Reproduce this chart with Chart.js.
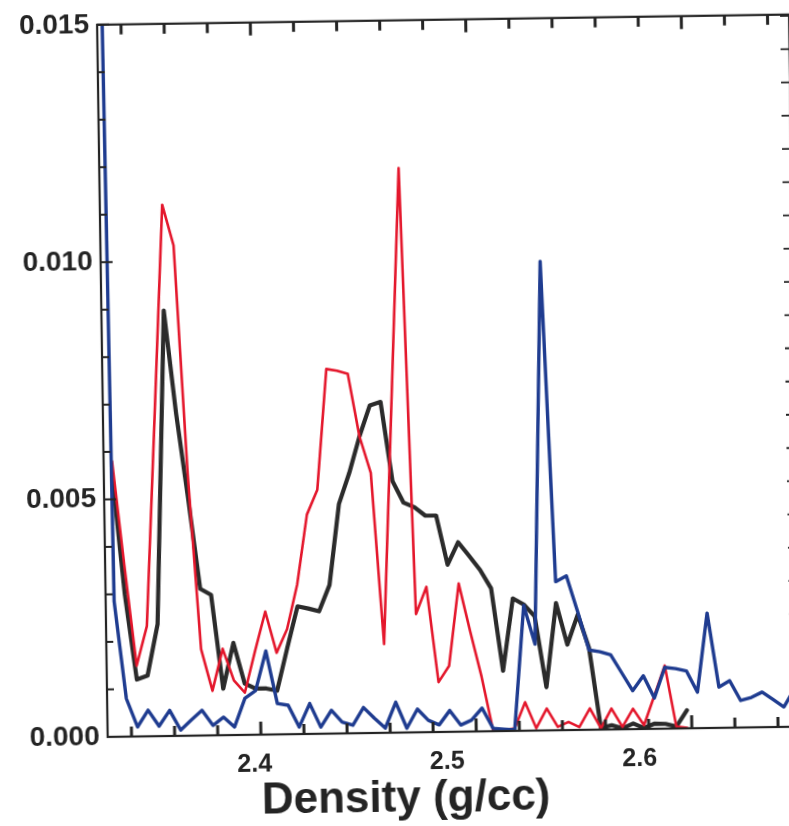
<!DOCTYPE html>
<html>
<head>
<meta charset="utf-8">
<script src="https://cdn.jsdelivr.net/npm/chart.js@4.4.1/dist/chart.umd.min.js"></script>
<style>
  html, body { margin: 0; padding: 0; background: #ffffff; overflow: hidden; }
  #wrap { position: relative; width: 789px; height: 826px; overflow: hidden; }
  /* the plotted sheet sits slightly tilted on the page */
  #c { display: block; transform: rotate(-0.85deg); transform-origin: 97px 17px; }
</style>
</head>
<body>
<div id="wrap"><canvas id="c" width="789" height="826"></canvas></div>
<script>
// Bin centres (g/cc)
const density = [
  2.3226, 2.3282, 2.3338, 2.3394, 2.3450, 2.3506, 2.3562, 2.3618, 2.3674, 2.3730,
  2.3786, 2.3842, 2.3898, 2.3954, 2.4010,
  2.4066, 2.4122, 2.4178, 2.4234, 2.4290, 2.4346, 2.4402, 2.4457, 2.4513, 2.4569,
  2.4625, 2.4681, 2.4737, 2.4793, 2.4849, 2.4905, 2.4961, 2.5017, 2.5073, 2.5129,
  2.5185, 2.5241, 2.5297, 2.5353, 2.5409, 2.5465, 2.5521, 2.5577, 2.5633, 2.5689,
  2.5745, 2.5801, 2.5857, 2.5913, 2.5969, 2.6025, 2.6081, 2.6137, 2.6193, 2.6249,
  2.6305, 2.6361, 2.6417, 2.6473, 2.6529, 2.6585, 2.6641, 2.6697, 2.6753, 2.6809
];

// Frequency per bin, one array per sample
const redSeries = [
  null, 0.0058, 0.0036, 0.00149, 0.00232, 0.0067, 0.01119, 0.01033, 0.0055, 0.00182,
  0.00094, 0.00182, 0.00115, 0.00089, 0.00176,
  0.00259, 0.00172, 0.00221, 0.00315, 0.00462, 0.00514, 0.00768, 0.00764, 0.00757, 0.00625,
  0.00548, 0.00187, 0.00688, 0.01189, 0.00249, 0.00306, 0.00105, 0.00139, 0.00312, 0.00211,
  0.00115, 0.00001, 0.00002, 0.00005, 0.0006, 0.00005, 0.00046, 0.00007, 0.00017, 0.00006,
  0.00045, 0.00003, 0.00044, 0.00005, 0.00043, 0.00008, 0.0007, 0.00133, 0.00004, 0.00001,
  null, null, null, null, null, null, null, null, null, null
];

const blackSeries = [
  null, 0.0055, 0.0030, 0.0012, 0.00128, 0.00236, 0.00896, 0.0068, 0.0050, 0.00309,
  0.00296, 0.00098, 0.00194, 0.00108, 0.00097,
  0.00097, 0.00092, 0.00182, 0.00269, 0.00264, 0.00258, 0.00313, 0.00483, 0.00548, 0.00625,
  0.0069, 0.00697, 0.0053, 0.00484, 0.00474, 0.00456, 0.00456, 0.00352, 0.00399, 0.0037,
  0.0034, 0.00301, 0.00127, 0.00279, 0.00266, 0.00241, 0.00091, 0.00268, 0.0018, 0.00243,
  0.00173, 0.00003, 0.00009, 0.00002, 0.00012, 0.00002, 0.00011, 0.0001, 0.00004, 0.00038,
  null, null, null, null, null, null, null, null, null, null
];

const blueSeries = [
  0.0414, 0.00285, 0.0008, 0.0002, 0.00055, 0.00021, 0.00054, 0.00012, 0.00033, 0.00053,
  0.00021, 0.00038, 0.00017, 0.00077, 0.00093,
  0.00176, 0.00065, 0.00061, 0.00015, 0.00064, 0.00014, 0.00049, 0.00024, 0.00017, 0.00054,
  0.00031, 0.0001, 0.00064, 0.00009, 0.00049, 0.00025, 0.00015, 0.00045, 0.00014, 0.00024,
  0.00049, 0.00006, 0.00004, 0.00002, 0.00264, 0.00182, 0.00988, 0.00313, 0.00325, 0.00249,
  0.00168, 0.00164, 0.00157, 0.00119, 0.00081, 0.00112, 0.00065, 0.00129, 0.00126, 0.00121,
  0.00076, 0.00242, 0.00086, 0.00099, 0.00057, 0.00063, 0.00074, 0.00058, 0.00042, 0.0008
];

// Axis range, labels and tick marks
const X_MIN = 2.3238;
const X_MAX = 2.6833;
const xTickValues = [2.4, 2.5, 2.6];
// minor tick marks along top and bottom edges (the longer ones are flagged)
const xMinorTickValues = [2.3362, 2.3586, 2.3810, 2.4034, 2.4258, 2.4482, 2.4706, 2.4929,
                          2.5153, 2.5377, 2.5601, 2.5825, 2.6049, 2.6273, 2.6497, 2.6721];
const xLongTickValues = [2.4034, 2.5153, 2.6273];
const yTickValues = [0, 0.001, 0.002, 0.003, 0.004, 0.005, 0.006, 0.007, 0.008,
                     0.009, 0.010, 0.011, 0.012, 0.013, 0.014, 0.015];
const yTickLabels = ['0.000', '0.005', '0.010', '0.015'];
const yRightTickValues = [0, 1, 2, 3, 4, 5, 6, 7, 8, 9, 10, 11, 12, 13, 14, 15,
                          16, 17, 18, 19, 20, 21];
const xTitle = 'Density (g/cc)';

const INK = '#242424';
const FONT = "'Liberation Sans', Arial, Helvetica, sans-serif";

const toPoints = (ys) => density.map((x, i) => ({ x: x, y: ys[i] }));
const asTicks = (vals) => vals.map(v => ({ value: v }));

// Frame round the plot with inward tick marks on all four sides
const frameTicks = {
  id: 'frameTicks',
  afterDraw(chart) {
    const { ctx, chartArea: a, scales } = chart;
    const ys = scales.y, yr = scales.yRight;
    const w = a.right - a.left;
    ctx.save();
    ctx.fillStyle = INK;
    ctx.strokeStyle = INK;
    ctx.lineWidth = 2.2;
    ctx.strokeRect(a.left, a.top, w, a.bottom - a.top);

    // top and bottom edges
    ctx.beginPath();
    for (let i = 0; i < xMinorTickValues.length; i++) {
      const v = xMinorTickValues[i];
      const x = a.left + (v - X_MIN) / (X_MAX - X_MIN) * w;
      const len = xLongTickValues.indexOf(v) >= 0 ? 13 : 10;
      ctx.rect(x - 1.5, a.bottom - len, 3, len);
      ctx.rect(x - 1.5, a.top, 3, len);
    }
    ctx.fill();

    // left edge
    ctx.beginPath();
    for (let i = 0; i < yTickValues.length; i++) {
      const v = yTickValues[i];
      const py = ys.getPixelForValue(v);
      const len = Math.round(v * 1000) % 5 === 0 ? 12 : 7;
      ctx.rect(a.left, py - 1, len, 2);
    }
    ctx.fill();

    // right edge
    ctx.beginPath();
    for (let i = 0; i < yRightTickValues.length; i++) {
      const py = yr.getPixelForValue(yRightTickValues[i]);
      ctx.rect(a.right - 9, py - 0.9, 9, 1.8);
    }
    ctx.fill();
    ctx.restore();
  }
};

const hidden = { display: false, drawTicks: false };

new Chart(document.getElementById('c'), {
  type: 'line',
  data: {
    datasets: [
      { data: toPoints(blueSeries), borderColor: '#1f3c90', borderWidth: 3.4, order: 1 },
      { data: toPoints(redSeries), borderColor: '#e4172c', borderWidth: 2.6, order: 2 },
      { data: toPoints(blackSeries), borderColor: '#2b2b2b', borderWidth: 4.2, order: 3 }
    ]
  },
  options: {
    responsive: false,
    animation: false,
    events: [],
    elements: {
      line: { tension: 0, borderJoinStyle: 'round', borderCapStyle: 'round', fill: false },
      point: { radius: 0 }
    },
    layout: { padding: { top: 17, left: 0, right: 0, bottom: 0 } },
    plugins: {
      legend: { display: false },
      tooltip: { enabled: false },
      title: {
        display: true,
        position: 'bottom',
        text: xTitle,
        color: INK,
        padding: 0,
        font: { family: FONT, size: 44, weight: 'bold', lineHeight: 1 }
      }
    },
    scales: {
      x: {
        type: 'linear',
        position: 'bottom',
        min: X_MIN,
        max: X_MAX,
        grid: hidden,
        border: { display: false },
        afterBuildTicks: s => { s.ticks = asTicks(xTickValues); },
        afterFit: s => { s.height = 45; },
        ticks: {
          autoSkip: false,
          maxRotation: 0,
          padding: 15,
          color: INK,
          font: { family: FONT, size: 25, weight: 'bold' },
          callback: v => v.toFixed(1)
        }
      },
      y: {
        type: 'linear',
        position: 'left',
        min: 0,
        max: 0.015,
        grid: hidden,
        border: { display: false },
        afterBuildTicks: s => { s.ticks = asTicks(yTickValues); },
        afterFit: s => { s.width = 97; },
        ticks: {
          autoSkip: false,
          padding: 8,
          color: INK,
          font: { family: FONT, size: 28, weight: 'bold' },
          callback: v => {
            const k = Math.round(v * 1000);
            return k % 5 === 0 ? yTickLabels[k / 5] : '';
          }
        }
      },
      yRight: {
        type: 'linear',
        position: 'right',
        min: -0.387,
        max: 21.04,
        grid: hidden,
        border: { display: false },
        afterBuildTicks: s => { s.ticks = asTicks(yRightTickValues); },
        afterFit: s => { s.width = 0; },
        ticks: { display: false }
      }
    }
  },
  plugins: [frameTicks]
});
</script>
</body>
</html>
